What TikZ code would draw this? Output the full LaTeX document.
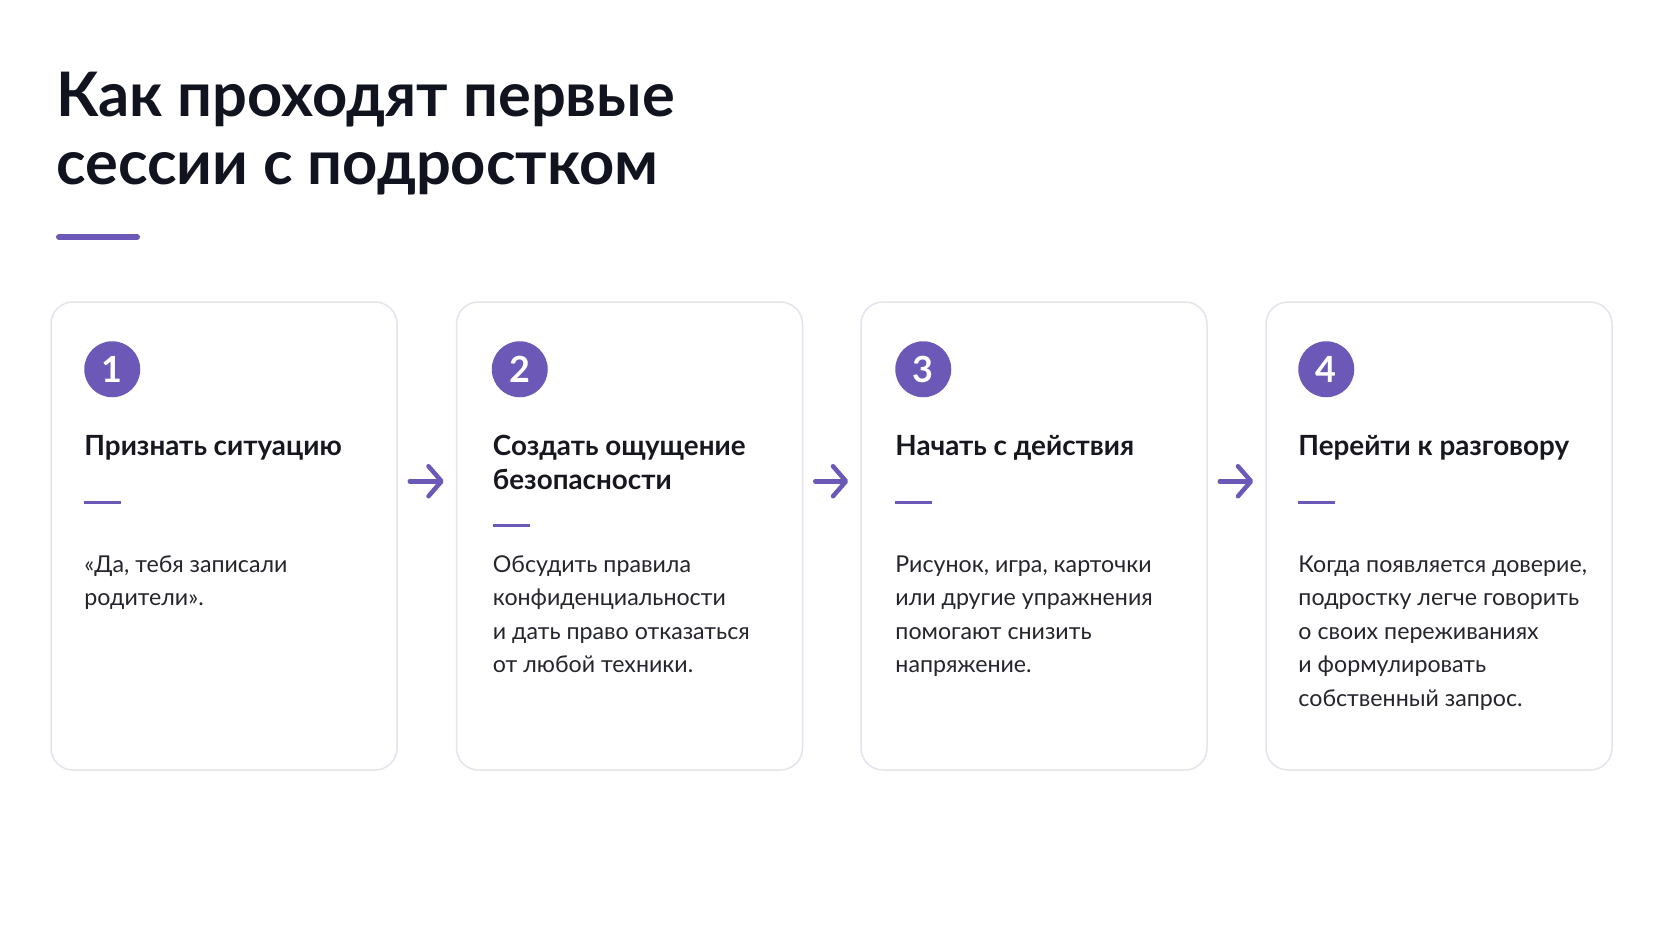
\documentclass[tikz,border=0pt]{standalone}
\usepackage{fontspec}
\setmainfont{Lato}
\usetikzlibrary{calc,arrows.meta}
\definecolor{accent}{HTML}{6B58B7}
\definecolor{titlec}{HTML}{11131F}
\definecolor{headc}{HTML}{16171F}
\definecolor{bodyc}{HTML}{24252D}
\definecolor{cardline}{HTML}{E4E3EE}
\begin{document}
\begin{tikzpicture}[x=1pt,y=-1pt,
  card/.style={draw=cardline,line width=1.5pt,fill=white,rounded corners=22pt,
    minimum width=346pt,minimum height=468pt,inner sep=0pt},
  badge/.style={circle,fill=accent,minimum size=56pt,inner sep=0pt,text=white,
    font=\fontsize{36}{36}\selectfont\bfseries},
  heading/.style={anchor=base west,inner sep=0pt,text width=330pt,align=flush left,text=headc,
    font=\fontsize{27.8}{34}\selectfont\bfseries},
  body/.style={anchor=base west,inner sep=0pt,text width=330pt,align=flush left,text=bodyc,
    font=\fontsize{23.2}{33.5}\selectfont},
  dashline/.style={draw=accent,line width=3pt},
  arr/.style={draw=accent,line width=4.5pt,line cap=round,
    -{Straight Barb[length=13pt,width=30pt,round]}}
]
\useasboundingbox[fill=white] (0,0) rectangle (1672,941);

% title
\node[anchor=base west,inner sep=0pt,text width=900pt,align=flush left,text=titlec,
  font=\fontsize{61.4}{68}\selectfont\bfseries] (title) at (56,117)
  {Как проходят первые\\сессии с подростком};
\draw[accent,line width=6pt,line cap=round] (59,237) -- (137,237);

% cards
\node[card] (c1) at (224,536) {};
\node[card] (c2) at (629.5,536) {};
\node[card] (c3) at (1034,536) {};
\node[card] (c4) at (1439,536) {};

% card 1
\node[badge] (b1) at ($(c1.north west)+(62,68)$) {1};
\node[heading] (h1) at ($(c1.north west)+(34,154)$) {Признать ситуацию};
\draw[dashline] ($(c1.north west)+(34,201)$) -- ($(c1.north west)+(71,201)$);
\node[body] (t1) at ($(c1.north west)+(34,271)$) {«Да, тебя записали\\родители».};

% card 2
\node[badge] (b2) at ($(c2.north west)+(64,68)$) {2};
\node[heading] (h2) at ($(c2.north west)+(37,154)$) {Создать ощущение\\безопасности};
\draw[dashline] ($(c2.north west)+(37,224)$) -- ($(c2.north west)+(74,224)$);
\node[body] (t2) at ($(c2.north west)+(37,271)$) {Обсудить правила\\конфиденциальности\\и дать право отказаться\\от любой техники.};

% card 3
\node[badge] (b3) at ($(c3.north west)+(63,68)$) {3};
\node[heading] (h3) at ($(c3.north west)+(35,154)$) {Начать с действия};
\draw[dashline] ($(c3.north west)+(35,201)$) -- ($(c3.north west)+(72,201)$);
\node[body] (t3) at ($(c3.north west)+(35,271)$) {Рисунок, игра, карточки\\или другие упражнения\\помогают снизить\\напряжение.};

% card 4
\node[badge] (b4) at ($(c4.north west)+(61,68)$) {4};
\node[heading] (h4) at ($(c4.north west)+(33,154)$) {Перейти к разговору};
\draw[dashline] ($(c4.north west)+(33,201)$) -- ($(c4.north west)+(70,201)$);
\node[body] (t4) at ($(c4.north west)+(33,271)$) {Когда появляется доверие,\\подростку легче говорить\\о своих переживаниях\\и формулировать\\собственный запрос.};

% arrows
\coordinate (a1s) at ($(c1.north east)+(12,180)$);
\coordinate (a1e) at ($(c2.north west)+(-12,180)$);
\coordinate (a2s) at ($(c2.north east)+(12,180)$);
\coordinate (a2e) at ($(c3.north west)+(-12,180)$);
\coordinate (a3s) at ($(c3.north east)+(12,180)$);
\coordinate (a3e) at ($(c4.north west)+(-12,180)$);
\draw[arr] (a1s) -- (a1e);
\draw[arr] (a2s) -- (a2e);
\draw[arr] (a3s) -- (a3e);
\end{tikzpicture}
\end{document}
